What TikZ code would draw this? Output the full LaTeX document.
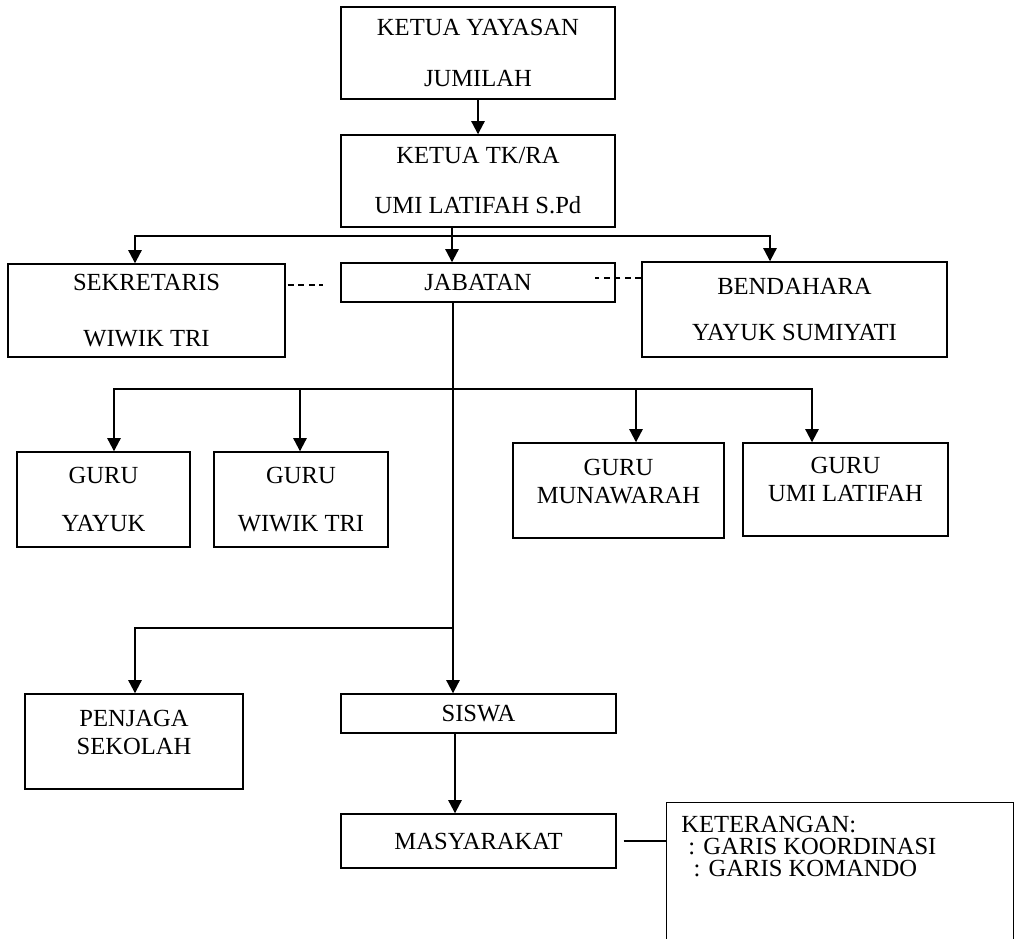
\documentclass[tikz,border=0pt]{standalone}
\usepackage{fontspec}
\setmainfont{Liberation Serif}
\usetikzlibrary{arrows.meta}

\begin{document}
\begin{tikzpicture}[x=0.02cm, y=-0.02cm,
	kotak/.style={draw, rectangle, line width=0.8pt, align=center, inner sep=2pt, font=\fontsize{14}{16}\selectfont},
	garis/.style={line width=1.2pt},
	koord/.style={line width=1.1pt, dash pattern=on 3.5pt off 2.5pt},
	>={Triangle[length=7.5pt, width=7.5pt]}]
				\useasboundingbox (0,0) rectangle (1017,939);
				% kotak-kotak
				\node[kotak, minimum width=5.48cm, minimum height=1.84cm] (yay)at(478, 53) {KETUA YAYASAN\\[0.44cm]JUMILAH};
				\node[kotak, minimum width=5.48cm, minimum height=1.84cm] (tk)at(478, 181) {KETUA TK/RA\\[0.44cm]UMI LATIFAH S.Pd};
				\node[kotak, minimum width=5.54cm, minimum height=1.86cm] (sek)at(146.5, 310.5) {SEKRETARIS\\[0.56cm]WIWIK TRI};
				\node[kotak, minimum width=5.48cm, minimum height=0.78cm] (jab)at(478, 282.5) {JABATAN};
				\node[kotak, minimum width=6.10cm, minimum height=1.90cm] (ben)at(794.5, 309.5) {BENDAHARA\\[0.36cm]YAYUK SUMIYATI};
				\node[kotak, minimum width=3.46cm, minimum height=1.90cm] (gy)at(103.5, 499.5) {GURU\\[0.38cm]YAYUK};
				\node[kotak, minimum width=3.48cm, minimum height=1.90cm] (gw)at(301, 499.5) {GURU\\[0.38cm]WIWIK TRI};
				\node[kotak, minimum width=4.22cm, minimum height=1.90cm, text depth=0.38cm] (gm)at(618.5, 490.5) {GURU\\MUNAWARAH};
				\node[kotak, minimum width=4.10cm, minimum height=1.86cm, text depth=0.42cm] (gu)at(845.5, 489.5) {GURU\\UMI LATIFAH};
				\node[kotak, minimum width=4.36cm, minimum height=1.90cm, text depth=0.38cm] (pen)at(134, 741.5) {PENJAGA\\SEKOLAH};
				\node[kotak, minimum width=5.50cm, minimum height=0.78cm] (sis)at(478.5, 713.5) {SISWA};
				\node[kotak, minimum width=5.50cm, minimum height=1.08cm] (mas)at(478.5, 841) {MASYARAKAT};
				\node[draw, rectangle, line width=0.8pt, anchor=north west, minimum width=6.94cm, minimum height=3.2cm] (ket)at(666, 802) {};
				\node[anchor=north west, align=left, inner sep=0pt, font=\fontsize{14}{12.5}\selectfont] (ketisi)at([shift={(15,14)}]ket.north west) {KETERANGAN:\\\hspace{4pt}: GARIS KOORDINASI\\\hspace{7pt}: GARIS KOMANDO};
				% titik cabang
				\coordinate (cab)at(452, 236);
				\coordinate (gb)at(453, 389);
				\coordinate (pb)at(453, 628);
				% garis komando
				\draw[->, garis] (yay) -- (tk);
				\draw[->, garis] (tk.south -| cab) -- (jab.north -| cab);
				\draw[->, garis] (cab) -| (sek.north -| 135,0);
				\draw[->, garis] (cab) -| (ben.north -| 770,0);
				\draw[->, garis] (jab.south -| gb) -- (sis.north -| gb);
				\draw[->, garis] (gb) -| (gy.north -| 114,0);
				\draw[->, garis] (gb) -| (gw.north -| 300,0);
				\draw[->, garis] (gb) -| (gm.north -| 636,0);
				\draw[->, garis] (gb) -| (gu.north -| 812,0);
				\draw[->, garis] (pb) -| (pen.north -| 135,0);
				\draw[->, garis] (sis.south -| 455,0) -- (mas.north -| 455,0);
				\draw[garis] ([shift={(7,0)}]mas.east) -- (mas.east -| ket.west);
				% garis koordinasi
				\draw[koord] ([shift={(2,22)}]sek.north east) -- ++(35,0);
				\draw[koord] ([shift={(0,17)}]ben.north west) -- ++(-46,0);
			\end{tikzpicture}
\end{document}
